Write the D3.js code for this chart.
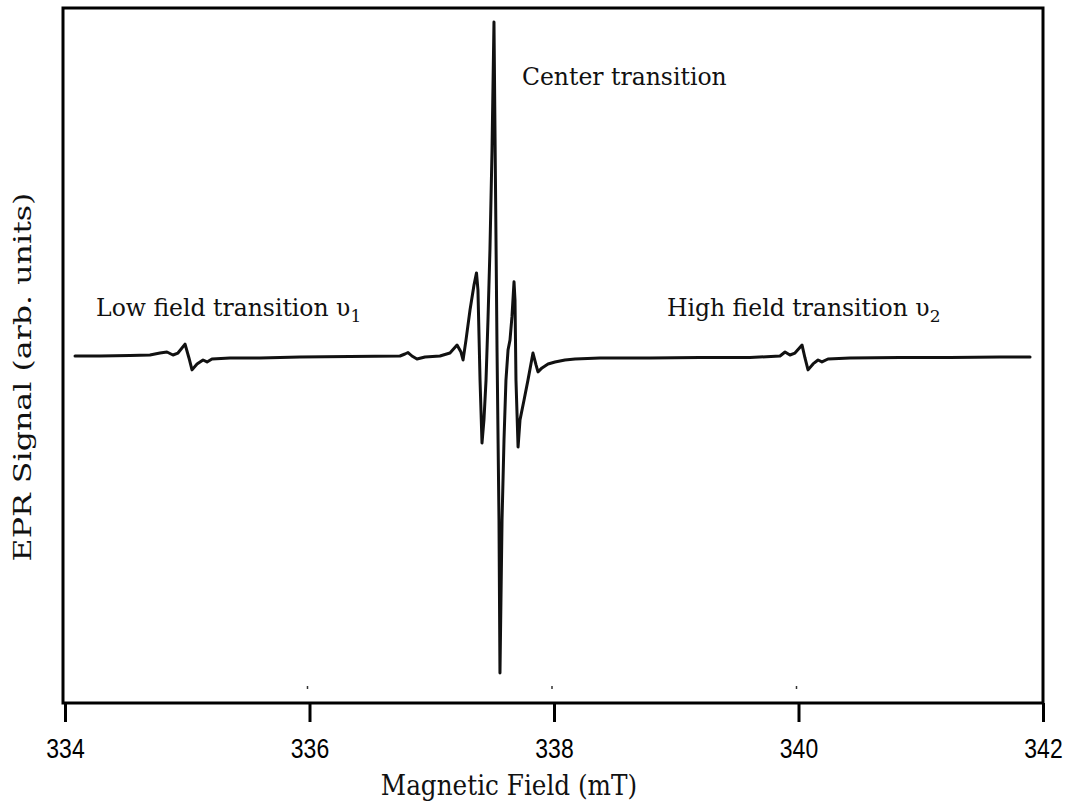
<!DOCTYPE html>
<html><head><meta charset="utf-8">
<script src="https://cdn.jsdelivr.net/npm/d3@7"></script>
<style>
html,body{margin:0;padding:0;background:#fff;}
svg{display:block;}
</style></head>
<body>
<svg id="chart" width="1071" height="802"></svg>
<script>
// Magnetic field (mT) and EPR signal (arb. units)
const field = [
334.082,334.286,334.532,334.695,334.777,334.834,334.883,334.924,334.982,335.014,
335.039,335.080,335.129,335.162,335.202,335.350,335.595,335.922,336.331,336.740,
336.781,336.806,336.838,336.879,336.945,337.067,337.149,337.207,337.239,337.256,
337.280,337.313,337.346,337.366,337.378,337.395,337.411,337.427,337.444,337.460,
337.476,337.493,337.509,337.534,337.550,337.558,337.575,337.591,337.607,337.624,
337.640,337.656,337.673,337.681,337.689,337.706,337.722,337.755,337.787,337.828,
337.853,337.869,337.902,337.951,338.008,338.090,338.172,338.376,338.785,339.194,
339.603,339.849,339.890,339.930,339.971,340.029,340.053,340.078,340.119,340.160,
340.192,340.241,340.421,340.830,341.239,341.648,341.894
];
const signal = [
0.0,0.0,0.15,0.3,0.9,1.2,0.3,0.9,3.6,-0.6,
-4.2,-2.4,-1.2,-1.8,-0.9,-0.6,-0.6,-0.3,-0.15,0.0,
0.6,1.05,0.0,-0.9,-0.3,0.0,0.9,3.3,1.2,-1.2,
4.8,13.9,21.5,25.1,19.9,-7.3,-26.3,-19.3,-7.3,10.9,
32.0,62.2,100.9,1.8,-49.5,-95.8,-49.5,-25.4,-7.3,1.8,
4.8,11.8,22.4,16.9,-7.3,-27.5,-19.3,-13.3,-7.3,0.9,
-2.7,-4.8,-3.6,-2.4,-1.8,-1.2,-0.9,-0.6,-0.6,-0.45,
-0.45,0.0,1.2,0.3,0.9,3.3,-0.6,-4.2,-2.4,-1.2,
-1.8,-0.9,-0.6,-0.45,-0.45,-0.3,-0.3
];
const xTicks = [334, 336, 338, 340, 342];
const minorMarks = [336, 338, 340];
const labels = [
  {text: "Center transition", x: 337.738, y: 82.0, sub: null},
  {text: "Low field transition \u03C5", x: 334.254, y: 12.2, sub: "1"},
  {text: "High field transition \u03C5", x: 338.924, y: 12.2, sub: "2"}
];
const xTitle = "Magnetic Field (mT)";
const yTitle = "EPR Signal (arb. units)";

const svg = d3.select("#chart");
const frame = {left: 63, right: 1043, top: 8, bottom: 703};
const x = d3.scaleLinear().domain([334, 342]).range([65, 1043]);
const y = d3.scaleLinear().domain([-100, 100]).range([687, 25]);

// frame
svg.append("rect")
  .attr("x", frame.left).attr("y", frame.top)
  .attr("width", frame.right - frame.left).attr("height", frame.bottom - frame.top)
  .attr("fill", "none").attr("stroke", "#000").attr("stroke-width", 3);

// x axis
const xAxis = d3.axisBottom(x).tickValues(xTicks).tickSize(19).tickFormat(d3.format("d"));
const gx = svg.append("g").attr("transform", `translate(0,${frame.bottom})`).call(xAxis);
gx.select(".domain").remove();
gx.selectAll(".tick line").attr("stroke", "#000").attr("stroke-width", 3);
gx.selectAll(".tick text")
  .attr("y", 0).attr("dy", 0)
  .attr("transform", "translate(0,55) scale(1,1.2)")
  .attr("font-family", "Liberation Sans, Arial, sans-serif")
  .attr("font-size", 23).attr("fill", "#000");

// tiny inner marks
svg.append("g").selectAll("line").data(minorMarks).join("line")
  .attr("x1", d => x(d) - 2).attr("x2", d => x(d) - 2)
  .attr("y1", 686).attr("y2", 689)
  .attr("stroke", "#333").attr("stroke-width", 1.5);

// spectrum
const pts = field.map((f, i) => [f, signal[i]]);
const line = d3.line().x(d => x(d[0])).y(d => y(d[1]));
svg.append("path").datum(pts)
  .attr("d", line)
  .attr("fill", "none").attr("stroke", "#111").attr("stroke-width", 3)
  .attr("stroke-linejoin", "round").attr("stroke-linecap", "round");

// annotations
const serif = "DejaVu Serif, serif";
labels.forEach(l => {
  const t = svg.append("text")
    .attr("x", x(l.x)).attr("y", y(l.y))
    .attr("font-family", serif).attr("font-size", 23.5).attr("fill", "#111")
    .text(l.text);
  if (l.sub) {
    t.append("tspan").attr("dy", 6).attr("font-size", 17).text(l.sub);
  }
});

// axis titles
svg.append("text")
  .attr("transform", "translate(509,795) scale(1.03,1.15)")
  .attr("text-anchor", "middle")
  .attr("font-family", serif).attr("font-size", 24).attr("fill", "#111")
  .text(xTitle);
svg.append("text")
  .attr("transform", "translate(31,377) rotate(-90) scale(1.32,1)")
  .attr("text-anchor", "middle")
  .attr("font-family", serif).attr("font-size", 24).attr("fill", "#111")
  .text(yTitle);
</script>
</body></html>
